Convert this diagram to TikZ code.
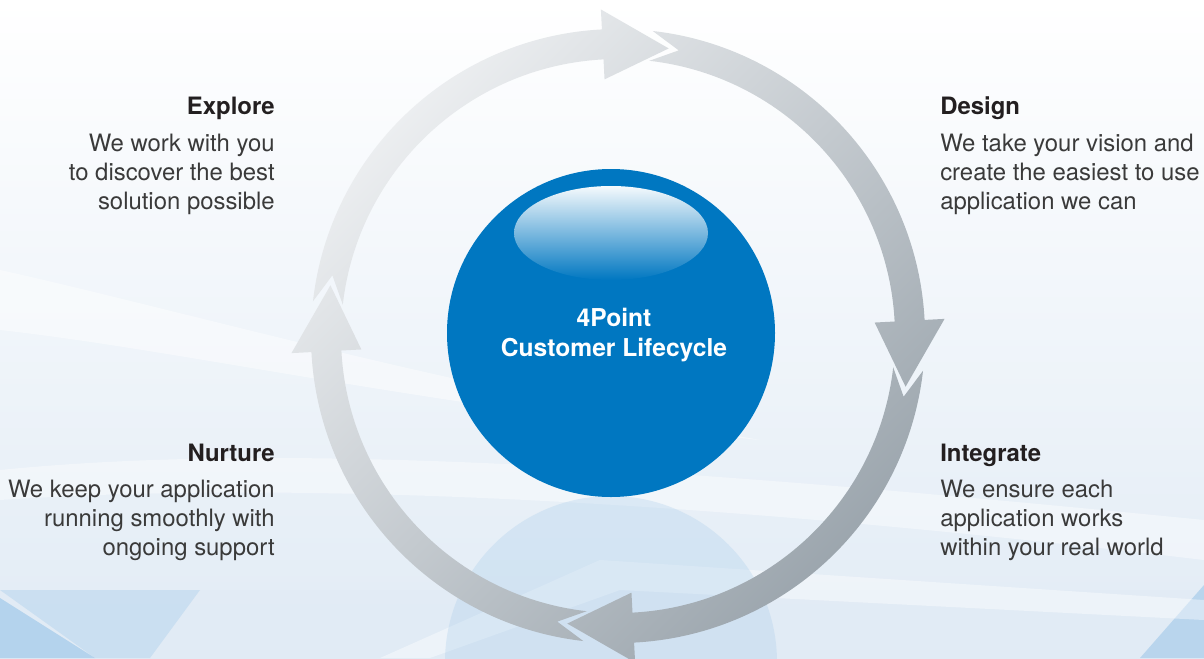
\documentclass[tikz,border=0pt]{standalone}
\usepackage{fontspec}
\setmainfont{TeX Gyre Heros}

\definecolor{cblue}{HTML}{0077C1}
\definecolor{bgblue}{HTML}{E1EBF5}
\definecolor{lblue}{HTML}{A9CDEB}
\definecolor{ringlight}{HTML}{EEF0F2}
\definecolor{ringdark}{HTML}{9AA4AC}
\definecolor{headgray}{HTML}{231F20}
\definecolor{txtgray}{HTML}{3A3A3A}

% ein Bogenstueck des Kreislaufs, #1 = Winkel der vorigen Pfeilspitze
\newcommand{\cycleseg}[1]{%
  ({#1+3.5}:307) -- ({#1-2}:292) -- ({#1+3.5}:277)
  arc[start angle={#1+3.5}, end angle={#1-77}, radius=277]
  -- ({#1-77}:257) -- ({#1-90}:292) -- ({#1-77}:327) -- ({#1-77}:307)
  arc[start angle={#1-77}, end angle={#1+3.5}, radius=307] -- cycle
}

\begin{document}
\begin{tikzpicture}[x=0.025cm, y=0.025cm,
    headleft/.style={anchor=base east, inner sep=0, text=headgray,
      font=\fontsize{17}{21}\selectfont\bfseries},
    headright/.style={anchor=base west, inner sep=0, text=headgray,
      font=\fontsize{17}{21}\selectfont\bfseries},
    lefttext/.style={anchor=base east, align=right, inner sep=0, text=txtgray,
      font=\fontsize{17}{20.3}\selectfont},
    righttext/.style={anchor=base west, align=left, inner sep=0, text=txtgray,
      font=\fontsize{17}{20.3}\selectfont}]
	\useasboundingbox (0,0) rectangle (1204,-658);
	
	% Hintergrund
	\shade[top color=white, bottom color=bgblue] (0,0) rectangle (1204,-658);
	\fill[white, opacity=0.45] (0,-270) .. controls (180,-310) and (420,-380) .. (760,-440)
		.. controls (420,-405) and (180,-350) .. (0,-330) -- cycle;
	\fill[white, opacity=0.4] (0,-470) .. controls (300,-440) and (700,-470) .. (1204,-520)
		-- (1204,-560) .. controls (700,-500) and (300,-480) .. (0,-500) -- cycle;
	\fill[bgblue, opacity=0.5] (0,-590) rectangle (1204,-658);
	\fill[lblue, opacity=0.8] (0,-598) -- (95,-658) -- (0,-658) -- cycle;
	\fill[lblue, opacity=0.4] (0,-590) -- (200,-590) -- (150,-658) -- (95,-658) -- cycle;
	\fill[lblue, opacity=0.7] (1204,-585) -- (1204,-658) -- (1140,-658) -- cycle;
	\fill[white, opacity=0.4] (380,-658) -- (600,-560) -- (1204,-600) -- (1204,-620) -- (620,-590) -- (430,-658) -- cycle;
	
	% Spiegelung der Kugel
	\fill[lblue, opacity=0.3] (611,-662) circle [radius=166];
	
	% Kreislauf
	\begin{scope}[shift={(618,-336)}]
		\shade[top color=ringlight, bottom color=ringdark, shading angle=45]
			\cycleseg{170} \cycleseg{80} \cycleseg{-10} \cycleseg{-100};
	\end{scope}
	
	% Kugel
	\fill[cblue] (611,-333) circle [radius=164];
	\shade[top color=cblue!4, middle color=cblue!50!white, bottom color=cblue]
		(611,-233) ellipse [x radius=97, y radius=47];
	\node[white, align=center, inner sep=0, font=\fontsize{17.5}{21.5}\selectfont\bfseries]
		(title) at (614,-335) {4Point\\Customer Lifecycle};
	
	% Texte
	\node[headleft] (explore) at (275,-114) {Explore};
	\node[lefttext] (exploretxt) at (275,-209) {We work with you\\to discover the best\\solution possible};
	\node[headright] (design) at (940,-114) {Design};
	\node[righttext] (designtxt) at (940,-209) {We take your vision and\\create the easiest to use\\application we can};
	\node[headleft] (nurture) at (275,-461) {Nurture};
	\node[lefttext] (nurturetxt) at (275,-555) {We keep your application\\running smoothly with\\ongoing support};
	\node[headright] (integrate) at (940,-461) {Integrate};
	\node[righttext] (integratetxt) at (940,-555) {We ensure each\\application works\\within your real world};
	
\end{tikzpicture}
\end{document}
